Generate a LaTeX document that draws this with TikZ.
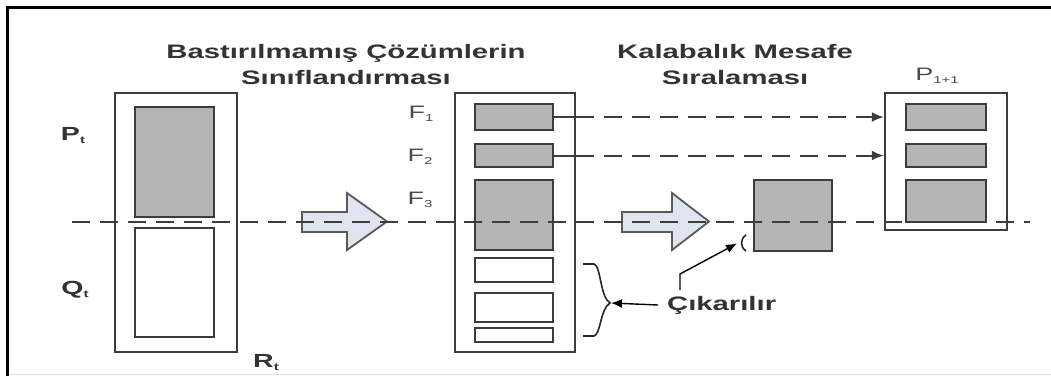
\documentclass[tikz,border=0pt]{standalone}
\usepackage{fontspec}
\setmainfont{Liberation Sans}
\newfontfamily\wf[FakeStretch=1.5]{Liberation Sans}
\usetikzlibrary{arrows.meta}
\definecolor{txt}{HTML}{333333}
\definecolor{lbl}{HTML}{4A4A4A}
\definecolor{boxfill}{HTML}{B4B4B4}
\definecolor{edge}{HTML}{3C3C3C}
\definecolor{arrfill}{HTML}{DFE5EF}
\tikzset{
  outerbox/.style={draw=edge, line width=2.4pt, fill=white, inner sep=0pt},
  graybox/.style={draw=edge, line width=2.2pt, fill=boxfill, inner sep=0pt},
  whitebox/.style={draw=edge, line width=2.2pt, fill=white, inner sep=0pt},
  title/.style={text=txt, font=\wf\bfseries\fontsize{19.5}{26}\selectfont, align=center, inner sep=0pt},
  biglbl/.style={text=txt, font=\wf\bfseries\fontsize{19}{19}\selectfont, inner sep=0pt},
  flbl/.style={text=lbl, font=\wf\fontsize{18}{18}\selectfont, inner sep=0pt},
  dashline/.style={draw=edge, line width=2pt, dash pattern=on 18pt off 10pt},
  blockarrow/.style={draw=edge!85, line width=1.8pt, fill=arrfill, line join=miter},
  pointer/.style={draw=black, line width=1.4pt, -{Latex[length=11pt,width=9pt]}},
}
\newcommand{\sub}[1]{\raisebox{-3pt}{\fontsize{10}{10}\selectfont #1}}
\begin{document}
\begin{tikzpicture}[x=1pt,y=-1pt]
\useasboundingbox (0,0) rectangle (1051,376);
\fill[white] (0,0) rectangle (1051,376);
% frame
\draw[black, line width=3pt] (7,376) -- (7,7.5) -- (1051,7.5);
\draw[black!12, line width=1pt] (9,374) -- (1051,374);

% titles
\node[title] (t1) at (346,65) {Bastırılmamış Çözümlerin\\Sınıflandırması};
\node[title] (t2) at (735,65) {Kalabalık Mesafe\\Sıralaması};

% left box R_t
\node[outerbox, minimum width=122pt, minimum height=259pt] (R) at (176,222.5) {};
\node[graybox, minimum width=79pt, minimum height=110pt] (P) at (174.5,162) {};
\node[whitebox, minimum width=79pt, minimum height=109pt] (Q) at (174.5,282.5) {};
\node[biglbl] (Pl) at (73,136) {P\sub{t}};
\node[biglbl] (Ql) at (75,290) {Q\sub{t}};
\node[biglbl] (Rl) at (266,362) {R\sub{t}};

% middle box
\node[outerbox, minimum width=120pt, minimum height=259pt] (M) at (515,222.5) {};
\node[graybox, minimum width=78pt, minimum height=26pt] (F1) at (514,117) {};
\node[graybox, minimum width=78pt, minimum height=23pt] (F2) at (514,155.5) {};
\node[graybox, minimum width=78pt, minimum height=70pt] (F3) at (514,215) {};
\node[whitebox, minimum width=78pt, minimum height=24pt] (W1) at (514,270) {};
\node[whitebox, minimum width=78pt, minimum height=29pt] (W2) at (514,307.5) {};
\node[whitebox, minimum width=78pt, minimum height=14pt] (W3) at (514,335) {};
\node[flbl] (F1l) at (421,114) {F\sub{1}};
\node[flbl] (F2l) at (420,157) {F\sub{2}};
\node[flbl] (F3l) at (420,200) {F\sub{3}};

% standalone gray box
\node[graybox, minimum width=78pt, minimum height=71pt] (G) at (793,215.5) {};

% right box P_{t+1}
\node[outerbox, minimum width=122pt, minimum height=137pt] (N) at (946,161.5) {};
\node[graybox, minimum width=80pt, minimum height=26pt] (N1) at (946,117) {};
\node[graybox, minimum width=80pt, minimum height=23pt] (N2) at (946,155.5) {};
\node[graybox, minimum width=80pt, minimum height=42pt] (N3) at (946,201) {};
\node[flbl] (Nl) at (937,76) {P\sub{1+1}};

% block arrows
\draw[blockarrow] (302,212) -- (347,212) -- (347,193) -- (387,221.5) -- (347,250) -- (347,232) -- (302,232) -- cycle;
\draw[blockarrow] (622,212) -- (672,212) -- (672,193) -- (709,221.5) -- (672,250) -- (672,232) -- (622,232) -- cycle;

% main dashed line
\coordinate (d0) at (72,221.5);
\coordinate (d1) at (1030,221.5);
\draw[dashline] (d0) -- (d1);

% F1, F2 connectors
\draw[draw=edge, line width=2pt] (F1.east) -- (F1.east -| M.east);
\draw[dashline, -{Latex[length=12pt,width=10pt]}] (F1.east -| M.east) -- (F1.east -| N.west);
\draw[draw=edge, line width=2pt] (F2.east) -- (F2.east -| M.east);
\draw[dashline, -{Latex[length=12pt,width=10pt]}] (F2.east -| M.east) -- (F2.east -| N.west);

% brace
\draw[black!85, line width=1.6pt] (583,264) -- (594,264) .. controls (601,266) and (600,297) .. (610,303)
  .. controls (600,309) and (601,334) .. (594,336) -- (583,336);
% small bracket near G
\draw[black!85, line width=1.6pt] (746,235) .. controls (740,239) and (740,247) .. (746,251);
\coordinate (bt) at (611,303);
\coordinate (pt) at (737,243.5);

% Çıkarılır
\node[title, anchor=west] (C) at (667,305) {Çıkarılır};
\draw[pointer] ([xshift=-9pt]C.west) -- (bt);
\coordinate (c0) at (680,290);
\draw[pointer] (c0) -- (680,274) -- (pt);
\end{tikzpicture}
\end{document}
